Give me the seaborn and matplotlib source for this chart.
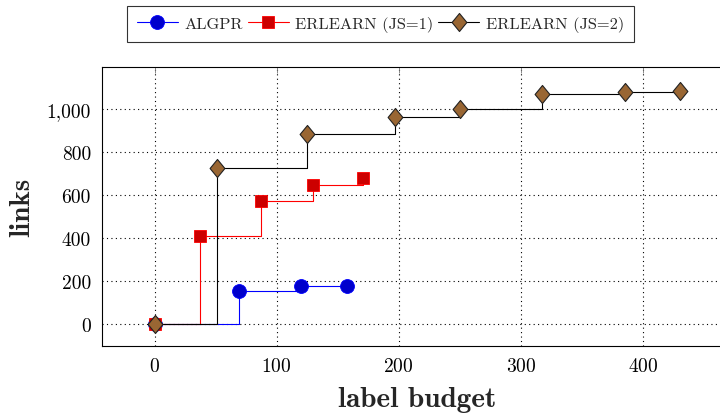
import matplotlib
matplotlib.use("Agg")
import matplotlib.pyplot as plt
import seaborn as sns
import pandas as pd
from matplotlib.path import Path
from matplotlib.ticker import FuncFormatter, MultipleLocator

algpr_x = [0, 69, 120, 158]
algpr_y = [0, 155, 178, 178]
js1_x = [0, 37, 87, 130, 171]
js1_y = [0, 410, 573, 648, 681]
js2_x = [0, 51, 125, 197, 250, 317, 385, 430]
js2_y = [0, 724, 884, 965, 1002, 1072, 1081, 1086]
labels = ["ALGPR", "ERLEARN (JS=1)", "ERLEARN (JS=2)"]

sns.set_style("white")
plt.rcParams['font.family'] = ['cmr10', 'DejaVu Serif']
plt.rcParams['axes.formatter.use_mathtext'] = True
plt.rcParams['mathtext.fontset'] = 'cm'

fig = plt.figure(figsize=(7.2, 4.14), dpi=100)
ax = fig.add_axes([102/720, 1-347/414, (732-102)/720, (347-68)/414])

diamond = Path([(0, 1), (0.82, 0), (0, -1), (-0.82, 0), (0, 1)],
               [Path.MOVETO, Path.LINETO, Path.LINETO, Path.LINETO, Path.CLOSEPOLY])

styles = [
    dict(color="#0000ff", marker="o", markersize=10, markerfacecolor="#0000cc",
         markeredgecolor="#0000ff", markeredgewidth=0.6),
    dict(color="#ff0000", marker="s", markersize=8, markerfacecolor="#cc0000",
         markeredgecolor="#ff0000", markeredgewidth=0.6),
    dict(color="black", marker=diamond, markersize=13, markerfacecolor="#996633",
         markeredgecolor="#222222", markeredgewidth=0.8),
]
series = [(algpr_x, algpr_y), (js1_x, js1_y), (js2_x, js2_y)]
for (xs, ys), lab, st in zip(series, labels, styles):
    df = pd.DataFrame({"x": xs, "y": ys})
    sns.lineplot(data=df, x="x", y="y", ax=ax, drawstyle="steps-post",
                 linewidth=0.8, label=lab, estimator=None, sort=False, **st)

ax.set_xlim(-43, 473)
ax.set_ylim(-103, 1196)
ax.xaxis.set_major_locator(MultipleLocator(100))
ax.yaxis.set_major_locator(MultipleLocator(200))
ax.yaxis.set_major_formatter(FuncFormatter(lambda v, p: f"{int(v):,}"))
ax.grid(True, color="black", linestyle=(0, (1, 3)), linewidth=0.8)
ax.tick_params(direction="in", length=4, width=0.6, color="#777777",
               top=True, right=True, labelsize=14, pad=8)
for lbl in ax.get_xticklabels() + ax.get_yticklabels():
    lbl.set_color("black")
for sp in ax.spines.values():
    sp.set_color("black")
    sp.set_linewidth(0.8)

ax.set_xlabel("label budget", fontsize=21, family="cmb10", labelpad=8)
ax.set_ylabel("links", fontsize=21, family="cmb10", labelpad=8)

leg = ax.legend(loc="upper left", bbox_to_anchor=(127/720, 1-7/414),
                bbox_transform=fig.transFigure, ncol=3, frameon=True,
                fancybox=False, edgecolor="black", fontsize=11.8,
                handlelength=2.5, handletextpad=0.4, columnspacing=0.3,
                borderpad=0.6, borderaxespad=0, markerscale=1.0)
leg.get_frame().set_linewidth(0.8)

fig.savefig("out.png", dpi=100)
